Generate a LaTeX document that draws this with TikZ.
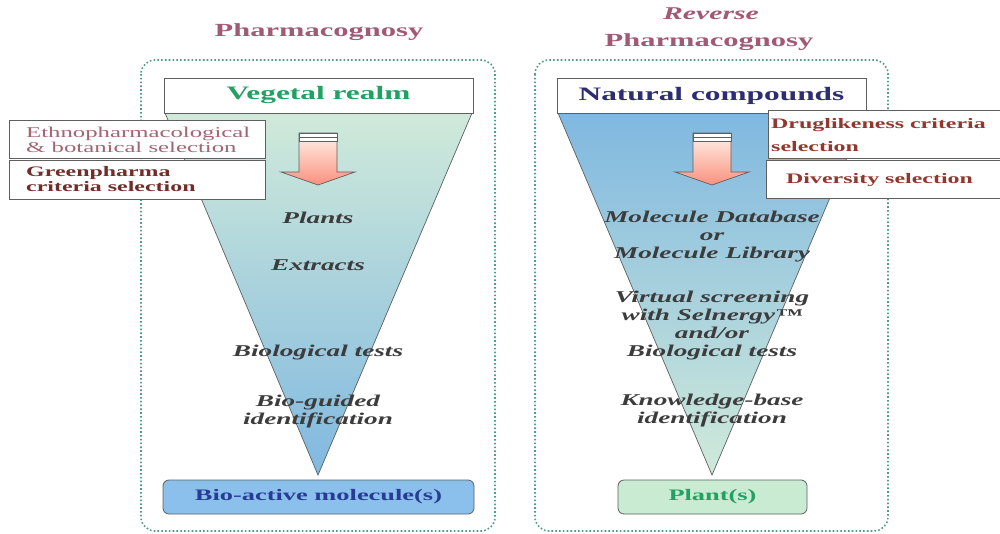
\documentclass[tikz,border=0pt]{standalone}
\usepackage{fontspec}
\setmainfont[FakeStretch=1.65]{Liberation Serif}
\definecolor{titlec}{RGB}{160,90,115}
\definecolor{ethnoc}{RGB}{165,100,115}
\definecolor{greenpc}{RGB}{115,45,40}
\definecolor{drugc}{RGB}{145,55,45}
\definecolor{vegc}{RGB}{35,160,100}
\definecolor{natc}{RGB}{45,45,115}
\definecolor{bioc}{RGB}{40,60,150}
\definecolor{dotc}{RGB}{80,155,140}
\definecolor{mintc}{RGB}{208,234,218}
\definecolor{bluec}{RGB}{128,184,224}
\definecolor{biofill}{RGB}{138,192,235}
\definecolor{plantfill}{RGB}{200,235,210}
\definecolor{arrowtop}{RGB}{255,242,235}
\definecolor{arrowbot}{RGB}{250,145,125}
\definecolor{linec}{RGB}{95,95,95}
\definecolor{textg}{RGB}{60,60,60}
\begin{document}
\begin{tikzpicture}[x=1pt,y=-1pt,
  titletext/.style={font=\bfseries\fontsize{18.5}{22}\selectfont, text=titlec, inner sep=0},
  headbox/.style={draw=linec, fill=white, line width=0.8pt, inner sep=0,
    font=\bfseries\fontsize{19}{24}\selectfont},
  endbox/.style={draw=linec, line width=0.8pt, rounded corners=6pt, inner sep=0,
    font=\bfseries\fontsize{16}{20}\selectfont},
  midtext/.style={font=\bfseries\itshape\fontsize{16.5}{18}\selectfont, text=textg, align=center, inner sep=0},
  sidebox/.style={draw=linec, fill=white, line width=0.8pt},
  dotbox/.style={draw=dotc, line width=1.6pt, dash pattern=on 1.6pt off 2.2pt, rounded corners=14pt},
  funnel/.style={draw=linec, line width=0.7pt},
  arrowshape/.style={draw=linec, line width=0.7pt, top color=arrowtop, bottom color=arrowbot}
]
\useasboundingbox (0,0) rectangle (1000,533);
\clip (0,0) rectangle (1000,533);
\fill[white] (0,0) rectangle (1000,533);

% titles
\node[titletext] (t1) at (319,32) {Pharmacognosy};
\node[titletext, font=\bfseries\itshape\fontsize{18}{22}\selectfont] (t2a) at (711,14) {Reverse};
\node[titletext] (t2b) at (709,42) {Pharmacognosy};

% dotted frames
\draw[dotbox] (141,60) rectangle (495,531);
\draw[dotbox] (535,60) rectangle (888,531);

% funnels
\shade[top color=mintc, bottom color=bluec] (165,113) -- (472,113) -- (318,475) -- cycle;
\draw[funnel] (165,113) -- (318,475) -- (472,113);
\shade[top color=bluec, bottom color=mintc] (558,113) -- (866,113) -- (712,475) -- cycle;
\draw[funnel] (558,113) -- (712,475) -- (866,113);

% head boxes
\node[headbox, minimum width=309pt, minimum height=35pt, text=vegc] (veg) at (318.5,95.5) {Vegetal realm};
\node[headbox, minimum width=309pt, minimum height=35pt, text=natc] (nat) at (711.5,95.5) {Natural compounds};

% arrows
\shadedraw[arrowshape] (299,133) -- (337,133) -- (337,172) -- (355,172) -- (318,185) -- (281,172) -- (299,172) -- cycle;
\filldraw[fill=white, draw=linec, line width=0.7pt] (299,133) rectangle (337,141);
\draw[linec, line width=0.5pt] (299,137.5) -- (337,137.5);
\shadedraw[arrowshape] (693,133) -- (731,133) -- (731,172) -- (749,172) -- (712,185) -- (675,172) -- (693,172) -- cycle;
\filldraw[fill=white, draw=linec, line width=0.7pt] (693,133) rectangle (731,141);
\draw[linec, line width=0.5pt] (693,137.5) -- (731,137.5);

% middle texts left
\node[midtext] (plants) at (318,218) {Plants};
\node[midtext] (extracts) at (318,265) {Extracts};
\node[midtext] (biotests) at (318,353) {Biological tests};
\node[midtext] (bioguided) at (318,412) {Bio-guided\\identification};

% middle texts right
\node[midtext] (moldb) at (712,237) {Molecule Database\\or\\Molecule Library};
\node[midtext] (virtual) at (712,326) {Virtual screening\\with Selnergy™\\and/or\\Biological tests};
\node[midtext] (knowledge) at (712,411) {Knowledge-base\\identification};

% end boxes
\node[endbox, fill=biofill, text=bioc, minimum width=311pt, minimum height=34pt] (bioactive) at (318.5,497) {Bio-active molecule(s)};
\node[endbox, fill=plantfill, text=vegc, minimum width=189pt, minimum height=34pt] (plant) at (712.5,497) {Plant(s)};

% side boxes left
\draw[sidebox] (9,120) rectangle (265,158);
\node[inner sep=0, anchor=west, align=left, text=ethnoc, font=\fontsize{15}{15}\selectfont] (ethno) at (26,139.5) {Ethnopharmacological\\\& botanical selection};
\draw[sidebox] (9,160) rectangle (265,199);
\node[inner sep=0, anchor=west, align=left, text=greenpc, font=\bfseries\fontsize{14.5}{15}\selectfont] (greenp) at (26,179.5) {Greenpharma\\criteria selection};

% side boxes right
\draw[sidebox] (768,110) rectangle (1010,158);
\node[inner sep=0, anchor=west, align=left, text=drugc, font=\bfseries\fontsize{14.5}{23}\selectfont] (drug) at (771,135.5) {Druglikeness criteria\\selection};
\draw[sidebox] (766,160) rectangle (1010,198);
\node[inner sep=0, anchor=west, text=drugc, font=\bfseries\fontsize{14.5}{15}\selectfont] (divers) at (786,180) {Diversity selection};
\end{tikzpicture}
\end{document}
